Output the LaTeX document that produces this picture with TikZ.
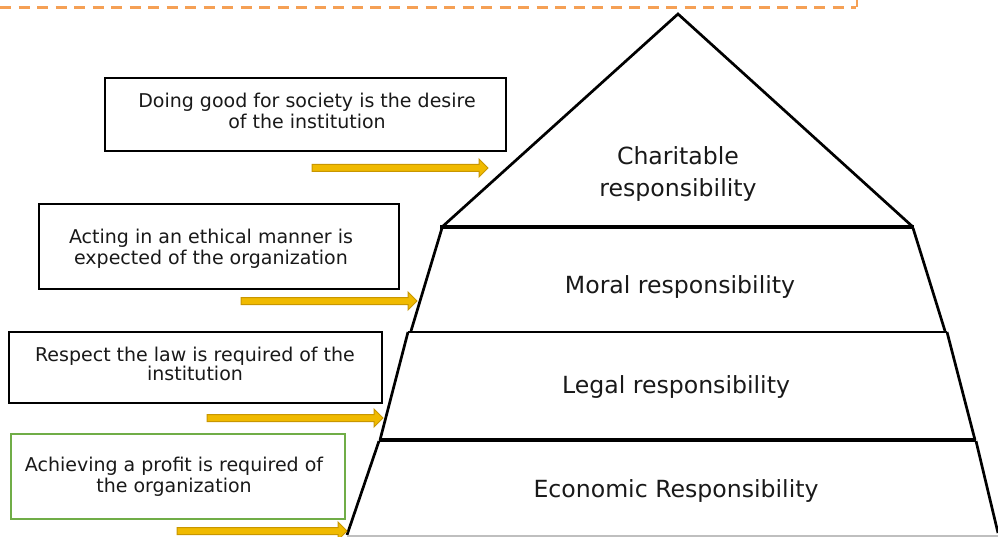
\documentclass[tikz,border=0pt]{standalone}
\usepackage{fontspec}
\setmainfont{DejaVu Sans}
\begin{document}
\begin{tikzpicture}[x=1pt,y=-1pt,
  edge/.style={draw=black,line width=2.7pt},
  note/.style={draw=black,line width=1.8pt,fill=white},
  notetext/.style={align=center,font=\fontsize{19}{21}\selectfont,text=black!90},
  bigtext/.style={align=center,font=\fontsize{23.6}{32}\selectfont,text=black!90},
  gold/.style={fill={rgb,255:red,240;green,186;blue,0},draw={rgb,255:red,200;green,150;blue,0},line width=1pt}
]
\useasboundingbox (0,0) rectangle (998,537);

% orange dashed rule along the top
\definecolor{rule}{RGB}{245,160,85}
\draw[rule,line width=3pt,dash pattern=on 11pt off 7.5pt] (0,8) -- (856,8);
\draw[rule,line width=2pt] (857,0) -- (857,7);

% pyramid layers
\draw[edge,line join=miter] (442,227) -- (678,14) -- (913,227);
\draw[black,line width=4pt] (440,227) -- (914,227);
\draw[edge] (442,228) -- (411,331);
\draw[edge] (913,228) -- (945,331);
\draw[edge] (408,332) -- (947,332);
\draw[edge] (408,332) -- (380,440);
\draw[edge] (947,332) -- (975,440);
\draw[black,line width=3.2pt] (379,440) -- (976,440);
\draw[edge] (379,441) -- (347,535);
\draw[edge] (976,441) -- (998,533);
\draw[black!25,line width=1.5pt] (347,536) -- (998,536);

\node[bigtext] (charitable) at (678,174) {Charitable\\responsibility};
\node[bigtext] (moral) at (680,287) {Moral responsibility};
\node[bigtext] (legal) at (676,387) {Legal responsibility};
\node[bigtext] (economic) at (676,491) {Economic Responsibility};

% statement boxes
\draw[note] (105,78) rectangle (506,151);
\node[notetext] (good) at (307,111) {Doing good for society is the desire\\of the institution};
\draw[note] (39,204) rectangle (399,289);
\node[notetext] (ethic) at (211,249) {Acting in an ethical manner is\\expected of the organization};
\draw[note] (9,332) rectangle (382,403);
\node[notetext,font=\fontsize{19}{18.5}\selectfont] (law) at (195,364) {Respect the law is required of the\\institution};
\draw[note,draw={rgb,255:red,112;green,173;blue,71}] (11,434) rectangle (345,519);
\node[notetext] (profit) at (174,477) {Achieving a profit is required of\\the organization};

% gold block arrows pointing at the pyramid
\newcommand\goldblock[3]{%
  \draw[gold] (#1,{#3-3.5}) -- ({#2-9},{#3-3.5}) -- ({#2-9},{#3-9}) -- (#2,#3)
    -- ({#2-9},{#3+9}) -- ({#2-9},{#3+3.5}) -- (#1,{#3+3.5}) -- cycle;}
\goldblock{312}{488}{168}
\goldblock{241}{417}{301}
\goldblock{207}{383}{418}
\goldblock{177}{347}{531}
\end{tikzpicture}
\end{document}
